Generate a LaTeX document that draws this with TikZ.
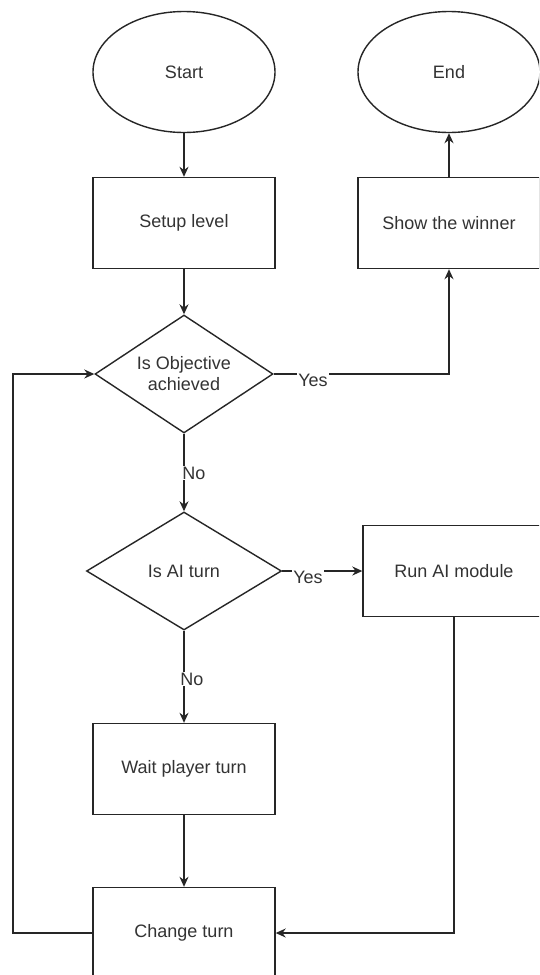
\documentclass[tikz,border=0pt]{standalone}
\usepackage{fontspec}
\setmainfont{Liberation Sans}
\usetikzlibrary{shapes.geometric,arrows.meta}
\begin{document}
\begin{tikzpicture}[x=1pt,y=-1pt,
  every node/.style={font=\fontsize{18}{21}\selectfont, text=black!80},
  term/.style={draw=black!85, ellipse, line width=1.4pt, minimum width=182pt, minimum height=121pt, inner sep=0pt},
  proc/.style={draw=black!85, rectangle, line width=1.4pt, minimum width=182pt, minimum height=91pt, inner sep=0pt},
  dec/.style={draw=black!85, diamond, shape aspect=1.5, line width=1.4pt, inner sep=0pt, align=center},
  conn/.style={line width=1.4pt, draw=black!85},
  arr/.style={conn, -{Stealth[length=10pt,width=9pt]}},
  lbl/.style={fill=white, inner sep=1pt}
]
\clip (0,0) rectangle (539,975);
\fill[white] (0,0) rectangle (539,975);

\node[term] (start) at (184,72) {Start};
\node[proc] (setup) at (184,223) {Setup level};
\node[dec, minimum width=178pt, minimum height=118pt] (obj) at (184,374) {Is Objective\\achieved};
\node[term] (end) at (449,72) {End};
\node[proc] (win) at (449,223) {Show the winner};
\node[dec, minimum width=195pt, minimum height=118pt] (ai) at (184,571) {Is AI turn};
\node[proc] (run) at (454,571) {Run AI module};
\node[proc] (wait) at (184,769) {Wait player turn};
\node[proc] (change) at (184,933) {Change turn};
\coordinate (lp) at (13,933);

\draw[arr] (start) -- (setup);
\draw[arr] (setup) -- (obj);
\draw[arr] (obj.east) -| (win.south);
\draw[arr] (win) -- (end);
\draw[arr] (obj) -- (ai);
\draw[arr] (ai.east) -- (run.west);
\draw[arr] (ai) -- (wait);
\draw[arr] (wait) -- (change);
\draw[arr] (run.south) |- (change.east);
\draw[arr] (change.west) -- (lp) |- (obj.west);

\node[lbl] (yes1) at (313,380) {Yes};
\node[lbl] (yes2) at (308,577) {Yes};
\node[lbl] (no1) at (194,473) {No};
\node[lbl] (no2) at (192,679) {No};
\end{tikzpicture}
\end{document}
